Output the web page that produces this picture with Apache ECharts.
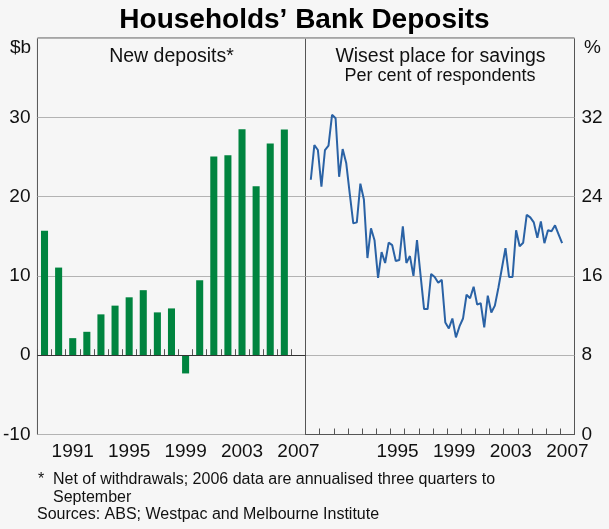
<!DOCTYPE html>
<html>
<head>
<meta charset="utf-8">
<script src="https://cdn.jsdelivr.net/npm/echarts@6/dist/echarts.min.js"></script>
<style>
html,body{margin:0;padding:0;background:#f6f6f6;}
#chart{width:609px;height:529px;}
</style>
</head>
<body>
<div id="chart"></div>
<script>
// ---- data ----
const years = ['1989','1990','1991','1992','1993','1994','1995','1996','1997','1998','1999','2000','2001','2002','2003','2004','2005','2006','2007'];
const depositValues = [15.7, 11.05, 2.15, 2.95, 5.15, 6.25, 7.3, 8.2, 5.4, 5.9, -2.3, 9.45, 25.05, 25.2, 28.5, 21.3, 26.7, 28.45];
const leftYearLabels = ['1991','1995','1999','2003','2007'];
const rightYearLabels = ['1995','1999','2003','2007'];
const savingsStartYear = 1989;
const savingsStartQuarter = 2;
const savingsValues = [25.7, 29.2, 28.7, 25.0, 28.7, 29.15, 32.25, 31.9, 26.0, 28.8,
  27.4, 24.3, 21.3, 21.4, 25.3, 23.7, 17.8, 20.8, 19.6, 15.8,
  18.4, 17.3, 19.35, 19.1, 17.5, 17.6, 21.0, 17.3, 18.0, 16.0,
  19.6, 16.1, 12.65, 12.65, 16.2, 15.9, 15.3, 15.6, 11.3, 10.7,
  11.7, 9.8, 10.9, 11.7, 14.1, 13.75, 14.9, 13.1, 13.25, 10.8,
  14.0, 12.3, 13.0, 14.8, 16.8, 18.8, 15.9, 15.9, 20.6, 19.0,
  19.35, 22.15, 21.9, 21.4, 19.85, 21.5, 19.3, 20.6, 20.5, 21.1,
  20.2, 19.3];

// quarterly dates -> decimal year at mid-quarter
const savingsData = savingsValues.map(function (v, i) {
  const q = savingsStartQuarter - 1 + i;
  const yr = savingsStartYear + Math.floor(q / 4);
  const qi = q % 4;
  return [yr + qi * 0.25 + 0.125, v];
});

const FONT = 'Arial, "Liberation Sans", sans-serif';
const gridColor = '#b3b3b3';
const frameColor = '#555555';
const txt = function (size, weight) {
  return {fontSize: size, fontWeight: weight || 'normal', color: '#111', fontFamily: FONT};
};

const chart = echarts.init(document.getElementById('chart'), null, {renderer: 'canvas'});
chart.setOption({
  backgroundColor: '#f6f6f6',
  animation: false,
  textStyle: {fontFamily: FONT},
  title: [
    {text: 'Households’ Bank Deposits', left: 'center', top: 6, padding: 0,
     textStyle: {fontSize: 28, fontWeight: 'bold', color: '#000', fontFamily: FONT}},
    {text: 'New deposits*', left: 171.5, textAlign: 'center', top: 46.5, padding: 0, textStyle: txt(19.5)},
    {text: 'Wisest place for savings', left: 440.5, textAlign: 'center', top: 46.5, padding: 0, textStyle: txt(19.5)},
    {text: 'Per cent of respondents', left: 440, textAlign: 'center', top: 67, padding: 0, textStyle: txt(18)},
    {text: '$b', left: 10, top: 38, padding: 0, textStyle: txt(19)},
    {text: '%', left: 584, top: 38, padding: 0, textStyle: txt(19)},
    {text: '*', left: 38, top: 472, padding: 0, textStyle: txt(16)},
    {text: 'Net of withdrawals; 2006 data are annualised three quarters to\nSeptember', left: 53, top: 471, padding: 0,
     textStyle: Object.assign(txt(16), {lineHeight: 18})},
    {text: 'Sources: ABS; Westpac and Melbourne Institute', left: 37, top: 507, padding: 0, textStyle: txt(16)}
  ],
  grid: [
    {left: 36.5, width: 269, top: 38, bottom: 94.5, show: true, borderColor: frameColor, borderWidth: 1, backgroundColor: 'transparent'},
    {left: 305.5, width: 269, top: 38, bottom: 94.5, show: true, borderColor: frameColor, borderWidth: 1, backgroundColor: 'transparent'}
  ],
  xAxis: [
    {type: 'category', gridIndex: 0, data: years, boundaryGap: true,
     axisLine: {show: true, lineStyle: {color: frameColor}},
     axisTick: {show: true, inside: true, length: 6, interval: 0, lineStyle: {color: frameColor}},
     axisLabel: {interval: 0, fontSize: 19, color: '#111', margin: 8, fontFamily: FONT,
       formatter: function (v) { return leftYearLabels.indexOf(v) >= 0 ? v : ''; }},
     splitLine: {show: false}},
    {type: 'category', gridIndex: 1, data: years, boundaryGap: true,
     axisLine: {show: true, lineStyle: {color: frameColor}},
     axisTick: {show: true, inside: true, length: 6, interval: 0, lineStyle: {color: frameColor}},
     axisLabel: {interval: 0, fontSize: 19, color: '#111', margin: 8, fontFamily: FONT,
       formatter: function (v) { return rightYearLabels.indexOf(v) >= 0 ? v : ''; }},
     splitLine: {show: false}},
    {type: 'value', gridIndex: 1, min: 1989, max: 2008, position: 'top', show: false}
  ],
  yAxis: [
    {type: 'value', gridIndex: 0, min: -10, max: 40, interval: 10, position: 'left',
     axisLine: {show: false}, axisTick: {show: false},
     axisLabel: {fontSize: 19, color: '#111', margin: 7, fontFamily: FONT,
       formatter: function (v) { return v === 40 ? '' : String(v); }},
     splitLine: {show: true, lineStyle: {color: gridColor, width: 1}}},
    {type: 'value', gridIndex: 1, min: 0, max: 40, interval: 8, position: 'right',
     axisLine: {show: false}, axisTick: {show: false},
     axisLabel: {fontSize: 19, color: '#111', margin: 7, fontFamily: FONT,
       formatter: function (v) { return v === 40 ? '' : String(v); }},
     splitLine: {show: true, lineStyle: {color: gridColor, width: 1}}}
  ],
  series: [
    {type: 'bar', xAxisIndex: 0, yAxisIndex: 0, data: depositValues, barWidth: '50%',
     itemStyle: {color: '#00843f'},
     markLine: {silent: true, symbol: ['none', 'none'], label: {show: false},
       lineStyle: {color: '#333', width: 1, type: 'solid'}, data: [{yAxis: 0}]}},
    {type: 'line', xAxisIndex: 2, yAxisIndex: 1, data: savingsData, showSymbol: false,
     lineStyle: {color: '#2a62a5', width: 2}, itemStyle: {color: '#2a62a5'}}
  ]
});
</script>
</body>
</html>
